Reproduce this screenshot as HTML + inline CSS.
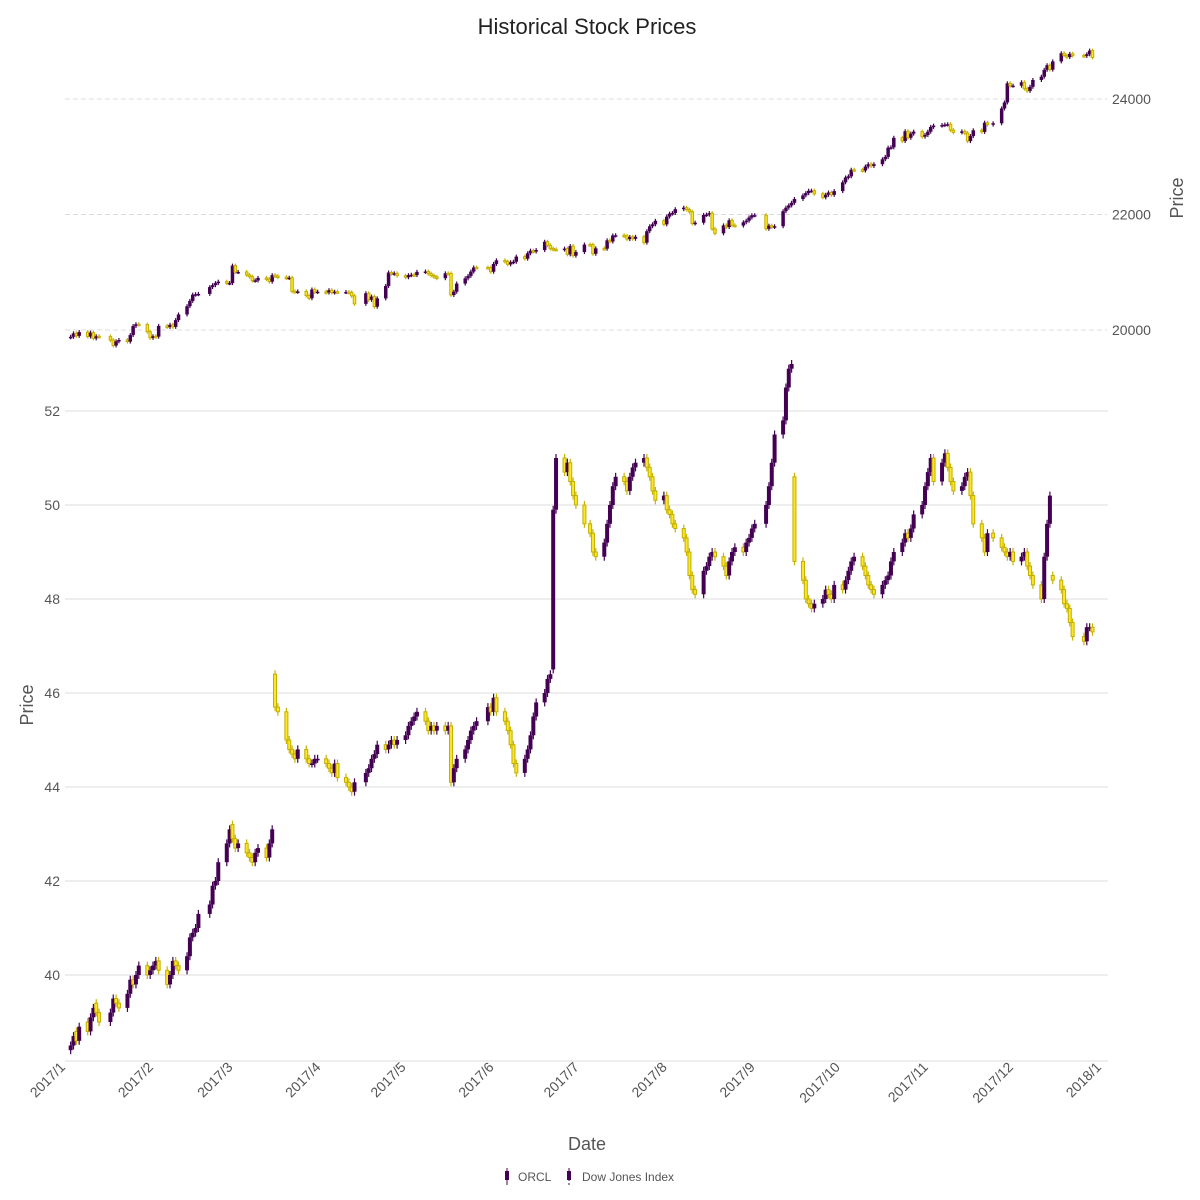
<!DOCTYPE html>
<html><head><meta charset="utf-8"><title>Historical Stock Prices</title>
<style>
html,body{margin:0;padding:0;background:#fff;}
svg{display:block;font-family:"Liberation Sans",sans-serif;}
</style></head>
<body>
<svg id="chart" width="1200" height="1200" viewBox="0 0 1200 1200">
<text x="587" y="34" text-anchor="middle" font-size="22" fill="#222">Historical Stock Prices</text>
<g id="grid"></g>
<g id="dji"></g>
<g id="orcl"></g>
<g id="axes"></g>
<text transform="translate(33,705) rotate(-90)" text-anchor="middle" font-size="18" fill="#555">Price</text>
<text transform="translate(1183,198) rotate(-90)" text-anchor="middle" font-size="18" fill="#555">Price</text>
<text x="587" y="1150" text-anchor="middle" font-size="18" fill="#555">Date</text>
<g>
  <g>
    <line x1="507" y1="1168" x2="507" y2="1185" stroke="#440154" stroke-width="1"/>
    <rect x="505" y="1171" width="4" height="9" fill="#440154"/>
    <text x="518" y="1181" font-size="12" fill="#555">ORCL</text>
  </g>
  <g>
    <line x1="569" y1="1168" x2="569" y2="1185" stroke="#440154" stroke-width="1" stroke-dasharray="3,2"/>
    <rect x="567" y="1171" width="4" height="9" fill="#440154"/>
    <text x="582" y="1181" font-size="12" fill="#555">Dow Jones Index</text>
  </g>
</g>
</svg>
<script>
const orclClose = [
38.5,38.7,38.6,38.9,38.8,39.1,39.3,39.2,39.0,39.2,39.5,39.4,39.3,39.6,39.9,39.8,40.0,40.2,40.0,40.1,
40.2,40.3,40.1,39.8,40.0,40.3,40.2,40.1,40.4,40.8,40.9,41.0,41.3,41.5,41.9,42.0,42.4,42.8,43.1,
42.9,42.7,42.8,42.6,42.5,42.4,42.6,42.7,42.5,42.8,43.1,45.7,45.6,45.0,44.8,44.7,44.6,44.8,44.6,44.5,44.5,44.6,44.6,
44.5,44.4,44.3,44.5,44.2,44.1,44.0,43.9,44.1,44.3,44.4,44.6,44.7,44.9,44.8,44.9,45.0,44.9,45.0,
45.1,45.3,45.4,45.5,45.6,45.4,45.2,45.3,45.2,45.3,45.2,45.3,44.1,44.4,44.6,44.8,45.0,45.2,45.3,45.4,45.7,45.6,
45.9,45.6,45.4,45.2,44.9,44.5,44.3,44.6,44.8,45.1,45.5,45.8,46.0,46.3,46.4,49.9,51.0,50.7,50.9,50.5,50.2,50.0,
49.6,49.4,49.0,48.9,49.2,49.6,50.0,50.4,50.6,50.5,50.3,50.6,50.8,50.9,51.0,50.8,50.6,50.3,50.1,50.2,
49.9,49.8,49.6,49.5,49.3,49.0,48.5,48.2,48.1,48.6,48.7,48.9,49.0,48.9,48.7,48.5,48.8,49.0,49.1,49.0,49.2,49.3,49.5,
49.6,50.0,50.4,50.9,51.5,51.8,52.5,52.9,53.0,48.8,48.4,48.0,47.9,47.8,47.9,48.0,48.2,48.1,48.0,48.3,
48.2,48.4,48.6,48.8,48.9,48.7,48.5,48.3,48.2,48.1,48.3,48.4,48.5,48.8,49.0,49.2,49.4,49.3,49.5,49.8,50.0,50.4,
50.7,51.0,50.5,50.9,51.1,50.8,50.5,50.3,50.4,50.6,50.7,50.2,49.6,49.3,49.0,49.4,49.3,49.1,49.0,48.9,49.0,
48.8,48.9,49.0,48.7,48.5,48.3,48.0,48.9,49.6,50.2,48.4,48.2,47.9,47.8,47.5,47.2,47.1,47.4,47.4,47.3];
const orclOpen = [
38.4,38.5,38.8,38.6,39.0,38.8,39.1,39.4,39.2,39.0,39.2,39.5,39.4,39.3,39.6,39.9,39.8,40.0,40.2,40.0,
40.1,40.2,40.3,40.1,39.8,40.0,40.3,40.2,40.1,40.4,40.8,40.9,41.0,41.3,41.5,41.9,42.0,42.4,42.8,
43.2,42.9,42.7,42.8,42.6,42.5,42.4,42.6,42.7,42.5,42.8,46.4,45.7,45.6,45.0,44.8,44.7,44.6,44.8,44.6,44.5,44.5,44.6,
44.6,44.5,44.4,44.3,44.5,44.2,44.1,44.0,43.9,44.1,44.3,44.4,44.6,44.7,44.9,44.8,44.9,45.0,44.9,
45.0,45.1,45.3,45.4,45.5,45.6,45.4,45.2,45.3,45.2,45.3,45.2,45.3,44.1,44.4,44.6,44.8,45.0,45.2,45.3,45.4,45.7,
45.6,45.9,45.6,45.4,45.2,44.9,44.5,44.3,44.6,44.8,45.1,45.5,45.8,46.0,46.3,46.5,49.9,51.0,50.7,50.9,50.5,50.2,
50.0,49.6,49.4,49.0,48.9,49.2,49.6,50.0,50.4,50.6,50.5,50.3,50.6,50.8,50.9,51.0,50.8,50.6,50.3,50.1,
50.2,49.9,49.8,49.6,49.5,49.3,49.0,48.5,48.2,48.1,48.6,48.7,48.9,49.0,48.9,48.7,48.5,48.8,49.0,49.1,49.0,49.2,49.3,
49.5,49.6,50.0,50.4,50.9,51.5,51.8,52.5,52.9,50.6,48.8,48.4,48.0,47.9,47.8,47.9,48.0,48.2,48.1,48.0,
48.3,48.2,48.4,48.6,48.8,48.9,48.7,48.5,48.3,48.2,48.1,48.3,48.4,48.5,48.8,49.0,49.2,49.4,49.3,49.5,49.8,50.0,
50.4,50.7,51.0,50.5,50.9,51.1,50.8,50.5,50.3,50.4,50.6,50.7,50.2,49.6,49.3,49.0,49.4,49.3,49.1,49.0,48.9,
49.0,48.8,48.9,49.0,48.7,48.5,48.3,48.0,48.9,49.6,48.5,48.4,48.2,47.9,47.8,47.5,47.2,47.1,47.4,47.4];
const djiClose = [
19882,19942,19899,19964,19887,19954,19855,19891,19886,19826,19732,19804,19827,19799,19912,20068,20100,20094,19971,19864,
19891,19885,20071,20053,20090,20054,20172,20269,20412,20504,20612,20620,20625,20743,20776,20812,20837,20811,20812,
21115,21003,21005,20954,20924,20855,20858,20902,20881,20837,20950,20934,20914,20902,20905,20669,20661,20668,20596,20550,20701,20659,20663,
20650,20689,20648,20662,20656,20658,20651,20591,20453,20636,20523,20578,20404,20547,20763,20996,20975,20981,20940,
20913,20949,20957,20951,21007,21012,20975,20943,20919,20897,20981,20979,20606,20663,20804,20894,20937,21012,21083,21082,21080,21009,
21144,21206,21184,21136,21173,21182,21271,21235,21328,21374,21360,21384,21528,21467,21410,21397,21394,21409,21310,21454,21287,21350,
21479,21478,21320,21414,21408,21553,21532,21637,21640,21629,21574,21611,21580,21613,21513,21711,21796,21830,21891,21830,
21963,22016,22026,22092,22118,22085,22048,21844,21858,21993,21998,22024,21750,21674,21812,21783,21899,21813,21808,21865,21892,21948,21987,
21988,21753,21807,21784,21797,22057,22118,22158,22203,22268,22331,22370,22412,22412,22359,22296,22341,22381,22341,22405,
22557,22641,22661,22775,22773,22761,22830,22872,22841,22871,22956,22997,23157,23163,23328,23273,23441,23329,23400,23435,23348,23377,
23435,23516,23539,23548,23557,23563,23461,23422,23439,23409,23271,23358,23458,23430,23590,23557,23580,23836,23940,24272,24231,
24231,24290,24180,24140,24211,24329,24386,24504,24585,24509,24651,24792,24754,24726,24782,24754,24746,24774,24838,24719];
const djiFirstOpen = [19873];
const orclTicks = [40,42,44,46,48,50,52];
const djiTicks = [20000,22000,24000];
const monthLabels = ["2017/1","2017/2","2017/3","2017/4","2017/5","2017/6","2017/7","2017/8","2017/9","2017/10","2017/11","2017/12","2018/1"];
const holidays = ["2017-01-02","2017-01-16","2017-02-20","2017-04-14","2017-05-29","2017-07-04","2017-09-04","2017-11-23","2017-12-25"];

const NS = "http://www.w3.org/2000/svg";
const X0 = 65, X1 = 1108, PX_PER_DAY = 1036/365;
const t0 = Date.UTC(2017,0,1);
function xScale(ms){ return X0 + (ms - t0)/86400000 * PX_PER_DAY; }
function yLeft(v){ return 411 + (52 - v) * 47; }
function yRight(v){ return 330 - (v - 20000) * 0.05775; }
function mk(tag, attrs, parent){ const e = document.createElementNS(NS, tag); for (const k in attrs) e.setAttribute(k, attrs[k]); parent.appendChild(e); return e; }

const tradingDays = [];
for (let d = 0; d < 365; d++) {
  const ms = t0 + d*86400000; const dt = new Date(ms); const wd = dt.getUTCDay();
  if (wd === 0 || wd === 6) continue;
  if (holidays.indexOf(dt.toISOString().slice(0,10)) >= 0) continue;
  tradingDays.push(ms);
}

const grid = document.getElementById('grid');
const axes = document.getElementById('axes');
orclTicks.forEach(function(v){
  const y = yLeft(v);
  const l = mk('line', {x1:X0, x2:X1, y1:y, y2:y, stroke:'#dcdcdc', 'stroke-width':1}, grid);
  
  
  const t = mk('text', {x:60, y:y+5, 'text-anchor':'end', 'font-size':14, fill:'#555'}, axes);
  t.textContent = v;
  
  
});
djiTicks.forEach(function(v){
  const y = yRight(v);
  const l = mk('line', {x1:X0, x2:1107, y1:y, y2:y, stroke:'#dcdcdc', 'stroke-width':1, 'stroke-dasharray':'5,3'}, grid);
  
  
  const t = mk('text', {x:1112, y:y+5, 'font-size':14, fill:'#555'}, axes);
  t.textContent = v;
  
  
});
const ax = mk('line', {x1:X0, x2:X1, y1:1061, y2:1061, stroke:'#dcdcdc', 'stroke-width':1}, axes);


monthLabels.forEach(function(lab, i){
  const ms = Date.UTC(2017, i, 1);
  const x = xScale(ms);
  const t = mk('text', {transform:'translate('+(x+1)+',1068) rotate(-45)', 'text-anchor':'end', 'font-size':14, fill:'#555'}, axes);
  t.textContent = lab;
  
  
});

function drawCandles(group, opens, closes, yf, w, wickPad, name){
  for (let i = 0; i < closes.length && i < tradingDays.length; i++) {
    const o = opens[i], c = closes[i];
    const x = xScale(tradingDays[i]);
    const up = c >= o;
    const yo = yf(o), yc = yf(c);
    const top = Math.min(yo, yc), bot = Math.max(yo, yc);
    const g = mk('g', {}, group);
    
    
    const col = up ? '#440154' : '#c8b400';
    mk('line', {x1:x, x2:x, y1:top - wickPad, y2:bot + wickPad, stroke:col, 'stroke-width':1.2}, g);
    if (up) mk('rect', {x:x - w/2, y:top, width:w, height:Math.max(bot - top, 1.5), fill:'#440154'}, g);
    else mk('rect', {x:x - w/2 + 0.5, y:top, width:w - 1, height:Math.max(bot - top, 1.5), fill:'#fde725', stroke:'#c2ae00', 'stroke-width':1}, g);
  }
}
const djiOpen = djiFirstOpen.concat(djiClose.slice(0, djiClose.length - 1));
drawCandles(document.getElementById('dji'), djiOpen, djiClose, yRight, 3.5, 2, 'dji');
drawCandles(document.getElementById('orcl'), orclOpen, orclClose, yLeft, 4, 4, 'orcl');
</script>
</body></html>
